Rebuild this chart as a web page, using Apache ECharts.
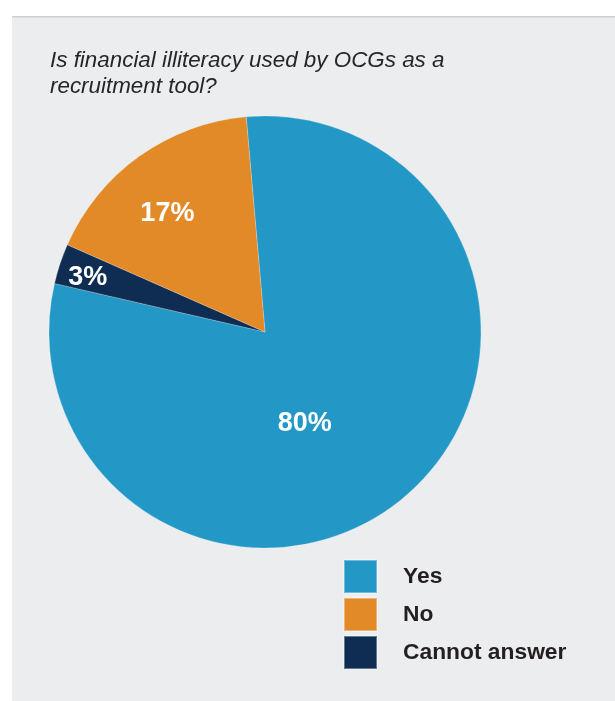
<!DOCTYPE html>
<html>
<head>
<meta charset="utf-8">
<title>Financial illiteracy as a recruitment tool</title>
<script src="https://cdn.jsdelivr.net/npm/echarts@6/dist/echarts.min.js"></script>
<style>
  html, body { margin: 0; padding: 0; background: #ffffff; }
  #chart { width: 615px; height: 701px; }
</style>
</head>
<body>
<div id="chart"></div>
<script>
// Survey answers, drawn clockwise from the top
const categories = ['Yes', 'Cannot answer', 'No'];
const shares = [80, 3, 17];
// Legend order as listed below the pie
const legendOrder = ['Yes', 'No', 'Cannot answer'];
const titleText = 'Is financial illiteracy used by OCGs as a\nrecruitment tool?';

// Presentation settings
const sliceColors = { 'Yes': '#2398c6', 'No': '#e28a28', 'Cannot answer': '#0f2d52' };
// Nudges applied to each percentage label from its default inside position
const labelNudge = { 'Yes': [-33, 8], 'Cannot answer': [-72, -19], 'No': [-33, -28] };
const fontFamily = '"Liberation Sans", Arial, Helvetica, sans-serif';

const chart = echarts.init(document.getElementById('chart'), null, { renderer: 'canvas' });

const pieData = categories.map((name, i) => ({
  name: name,
  value: shares[i],
  itemStyle: { color: sliceColors[name] }
}));

chart.setOption({
  animation: false,
  graphic: [
    {
      type: 'rect',
      z: -10,
      shape: { x: 12, y: 16, width: 603, height: 685 },
      style: { fill: '#ecedef' },
      silent: true
    },
    {
      type: 'rect',
      z: -9,
      shape: { x: 12, y: 16, width: 603, height: 1.5 },
      style: { fill: '#cfd0d3' },
      silent: true
    }
  ],
  title: {
    text: titleText,
    left: 50,
    top: 48,
    padding: 0,
    textStyle: {
      fontFamily: fontFamily,
      fontStyle: 'italic',
      fontWeight: 'normal',
      fontSize: 22.4,
      lineHeight: 26,
      color: '#262626'
    }
  },
  legend: {
    data: legendOrder,
    orient: 'vertical',
    left: 343,
    top: 559,
    padding: 0,
    itemWidth: 33,
    itemHeight: 33,
    itemGap: 3,
    icon: 'rect',
    selectedMode: false,
    textStyle: {
      fontFamily: fontFamily,
      fontWeight: 'bold',
      fontSize: 22.8,
      lineHeight: 33,
      color: '#231f20',
      padding: [0, 0, 0, 21]
    }
  },
  series: [
    {
      type: 'pie',
      center: [265, 332],
      radius: [0, 216],
      startAngle: 95,
      clockwise: true,
      avoidLabelOverlap: false,
      silent: true,
      itemStyle: {
        borderColor: 'rgba(255,255,255,0.35)',
        borderWidth: 0.6
      },
      label: {
        show: true,
        position: 'inside',
        formatter: '{c}%',
        fontFamily: fontFamily,
        fontWeight: 'bold',
        fontSize: 27,
        color: '#ffffff'
      },
      labelLine: { show: false },
      labelLayout: function (params) {
        const nudge = labelNudge[categories[params.dataIndex]] || [0, 0];
        return { dx: nudge[0], dy: nudge[1] };
      },
      data: pieData
    }
  ]
});
</script>
</body>
</html>
